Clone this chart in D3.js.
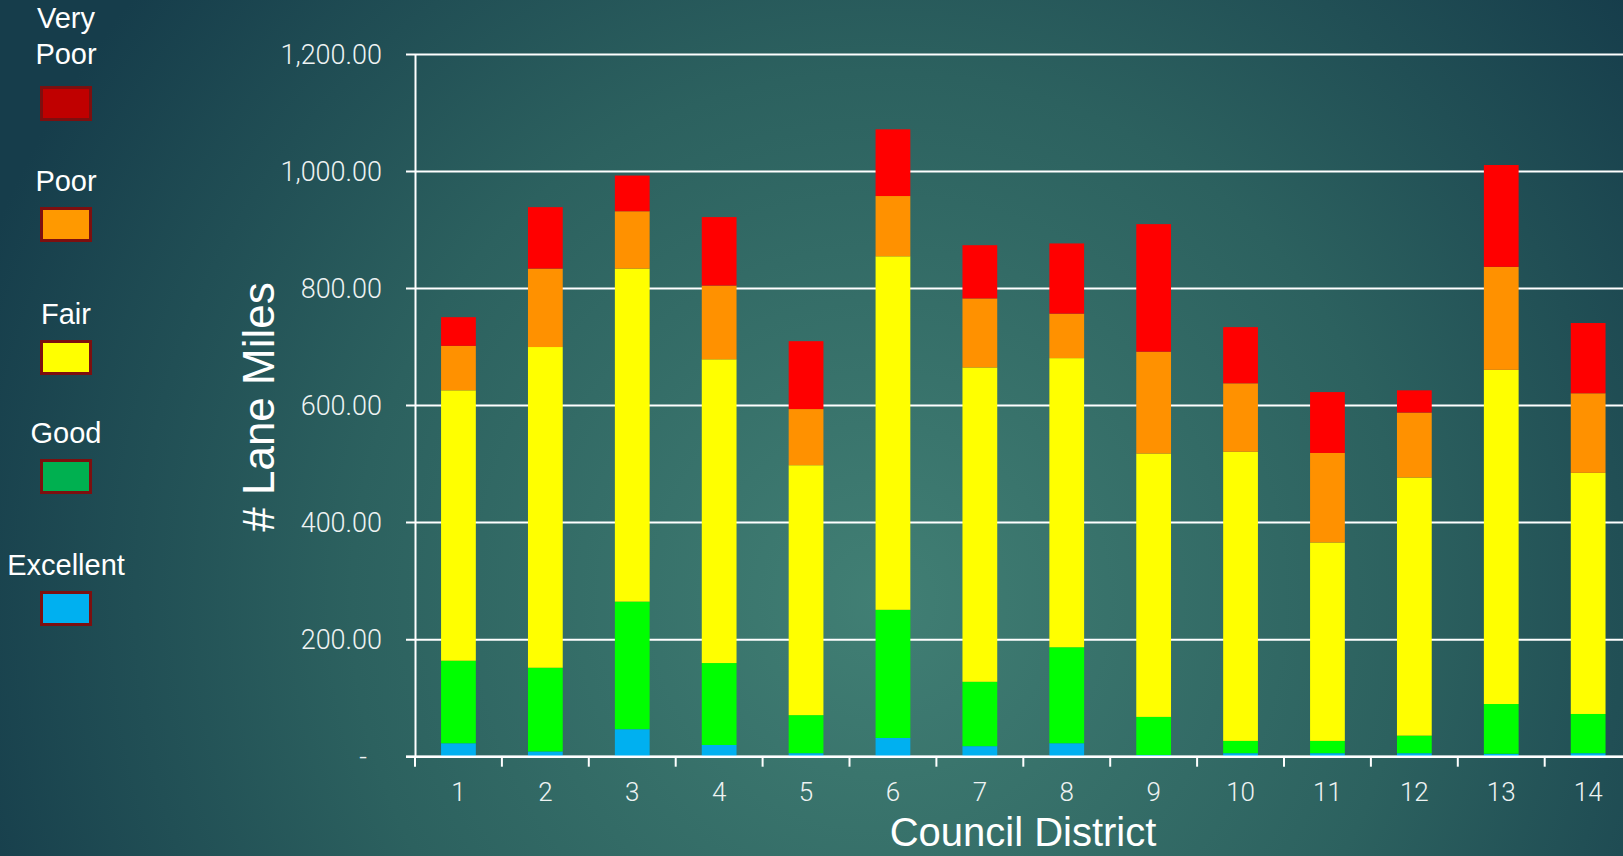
<!DOCTYPE html>
<html>
<head>
<meta charset="utf-8">
<script src="https://cdn.jsdelivr.net/npm/d3@7"></script>
<style>
  html, body { margin: 0; padding: 0; background: #1d4a54; overflow: hidden; }
  #chart { width: 1623px; height: 856px; }
  svg { display: block; }
  .tick-label { font-family: Roboto, 'Open Sans', sans-serif; font-weight: 300; fill: #eef3f3; }
  .title { font-family: 'Liberation Sans', Arial, sans-serif; fill: #ffffff; }
</style>
</head>
<body>
<div id="chart"></div>
<script>
// Lane miles per council district, by pavement condition
var districts = ['1', '2', '3', '4', '5', '6', '7', '8', '9', '10', '11', '12', '13', '14'];
var conditions = ['Excellent', 'Good', 'Fair', 'Poor', 'Very Poor'];

var excellent = [23, 9, 47, 20, 6, 32, 18, 23, 3, 6, 6, 6, 5, 6];
var good = [141, 143, 218, 140, 65, 219, 110, 164, 65, 21, 21, 30, 85, 67];
var fair = [462, 548, 569, 519, 427, 604, 537, 494, 450, 494, 339, 441, 571, 412];
var poor = [76, 134, 98, 126, 96, 103, 118, 76, 174, 117, 153, 111, 176, 136];
var veryPoor = [49, 105, 61, 117, 116, 114, 91, 120, 218, 96, 104, 38, 174, 120];

var yTicks = [0, 200, 400, 600, 800, 1000, 1200];

// Colours
var barColors = {
  'Excellent': '#00b0f0',
  'Good': '#00ff00',
  'Fair': '#ffff00',
  'Poor': '#ff9100',
  'Very Poor': '#ff0000',
};
var legendColors = {
  'Excellent': '#00b0f0',
  'Good': '#00b050',
  'Fair': '#ffff00',
  'Poor': '#ff9900',
  'Very Poor': '#c00000',
};

var width = 1623, height = 856;

// build the table d3.stack wants
var table = districts.map(function (d, i) {
  return {
    district: d,
    'Excellent': excellent[i],
    'Good': good[i],
    'Fair': fair[i],
    'Poor': poor[i],
    'Very Poor': veryPoor[i],
  };
});
var series = d3.stack().keys(conditions)(table);

var svg = d3.select('#chart').append('svg')
  .attr('width', width)
  .attr('height', height);

// background
var defs = svg.append('defs');
var grad = defs.append('radialGradient')
  .attr('id', 'bg')
  .attr('gradientUnits', 'userSpaceOnUse')
  .attr('cx', 880).attr('cy', 600).attr('r', 960);
grad.append('stop').attr('offset', 0).attr('stop-color', '#417f74');
grad.append('stop').attr('offset', 0.55).attr('stop-color', '#2c615f');
grad.append('stop').attr('offset', 1).attr('stop-color', '#163d4b');
svg.append('rect').attr('width', width).attr('height', height).attr('fill', 'url(#bg)');

// scales
var plotLeft = 415, step = 86.9;
var x = d3.scaleBand()
  .domain(districts)
  .range([plotLeft, plotLeft + step * districts.length])
  .padding(0);
var y = d3.scaleLinear().domain([0, 1200]).range([756.7, 54.4]);

// gridlines
svg.append('g').classed('grid', true)
  .selectAll('line')
  .data(yTicks)
  .join('line')
  .attr('x1', 406).attr('x2', width)
  .attr('y1', function (d) { return y(d); })
  .attr('y2', function (d) { return y(d); })
  .attr('stroke', '#ffffff')
  .attr('stroke-width', 2);

// y axis
var yAxis = d3.axisLeft(y)
  .tickValues(yTicks)
  .tickSize(0)
  .tickPadding(33)
  .tickFormat(function (d) { return d === 0 ? '-' : d3.format(',.2f')(d); });
var yAxisG = svg.append('g')
  .attr('transform', 'translate(' + plotLeft + ',0)')
  .call(yAxis);
yAxisG.select('.domain').attr('stroke', '#ffffff').attr('stroke-width', 2);
yAxisG.selectAll('.tick text')
  .classed('tick-label', true)
  .attr('fill', null)
  .style('font-size', '27px')
  .attr('dx', function (d) { return d === 0 ? -15 : 0; });

// bars
svg.append('g').classed('bars', true)
  .selectAll('g')
  .data(series)
  .join('g')
  .attr('fill', function (s) { return barColors[s.key]; })
  .selectAll('rect')
  .data(function (s) { return s; })
  .join('rect')
  .attr('x', function (d) { return x(d.data.district) + x.bandwidth() * 0.3; })
  .attr('width', x.bandwidth() * 0.4)
  .attr('y', function (d) { return y(d[1]); })
  .attr('height', function (d) { return y(d[0]) - y(d[1]); });

// x axis
var xAxis = d3.axisBottom(x).tickSize(0).tickPadding(26);
var xAxisG = svg.append('g')
  .attr('transform', 'translate(0,' + y(0) + ')')
  .call(xAxis);
xAxisG.select('.domain').remove();
xAxisG.append('line')
  .attr('x1', 406).attr('x2', width)
  .attr('stroke', '#ffffff').attr('stroke-width', 2.5);
xAxisG.selectAll('.tick text')
  .classed('tick-label', true)
  .attr('fill', null)
  .style('font-size', '26px');
// tick marks sit on band boundaries
xAxisG.append('g')
  .selectAll('line')
  .data(districts)
  .join('line')
  .attr('x1', function (d) { return x(d); })
  .attr('x2', function (d) { return x(d); })
  .attr('y1', 0).attr('y2', 10)
  .attr('stroke', '#ffffff').attr('stroke-width', 2);

// axis titles
svg.append('text')
  .classed('title', true)
  .attr('transform', 'translate(274,407) rotate(-90)')
  .attr('text-anchor', 'middle')
  .style('font-size', '44px')
  .text('# Lane Miles');

svg.append('text')
  .classed('title', true)
  .attr('x', 1023).attr('y', 846)
  .attr('text-anchor', 'middle')
  .style('font-size', '40px')
  .style('font-weight', 'bold')
  .style('stroke', '#ffffff')
  .style('stroke-width', 0)
  .style('font-weight', 'normal')
  .text('Council District');

// legend, top to bottom: Very Poor ... Excellent
var legendKeys = conditions.slice().reverse();
var legendLines = { 'Very Poor': ['Very', 'Poor'] };
var legendBoxTop = [86, 207, 340, 459, 591];

var legend = svg.append('g').classed('legend', true)
  .selectAll('g')
  .data(legendKeys)
  .join('g')
  .attr('transform', function (d, i) { return 'translate(66,' + legendBoxTop[i] + ')'; });

legend.append('rect')
  .attr('x', -24.5).attr('y', 1.5)
  .attr('width', 49).attr('height', 32)
  .attr('fill', function (d) { return legendColors[d]; })
  .attr('stroke', '#7d0f0f')
  .attr('stroke-width', 3);

legend.each(function (d) {
  var lines = legendLines[d] || [d];
  d3.select(this).selectAll('text')
    .data(lines)
    .join('text')
    .classed('title', true)
    .attr('text-anchor', 'middle')
    .attr('y', function (l, j) { return -16 - (lines.length - 1 - j) * 36 - (lines.length > 1 ? 6 : 0); })
    .style('font-size', '29px')
    .text(function (l) { return l; });
});
</script>
</body>
</html>
